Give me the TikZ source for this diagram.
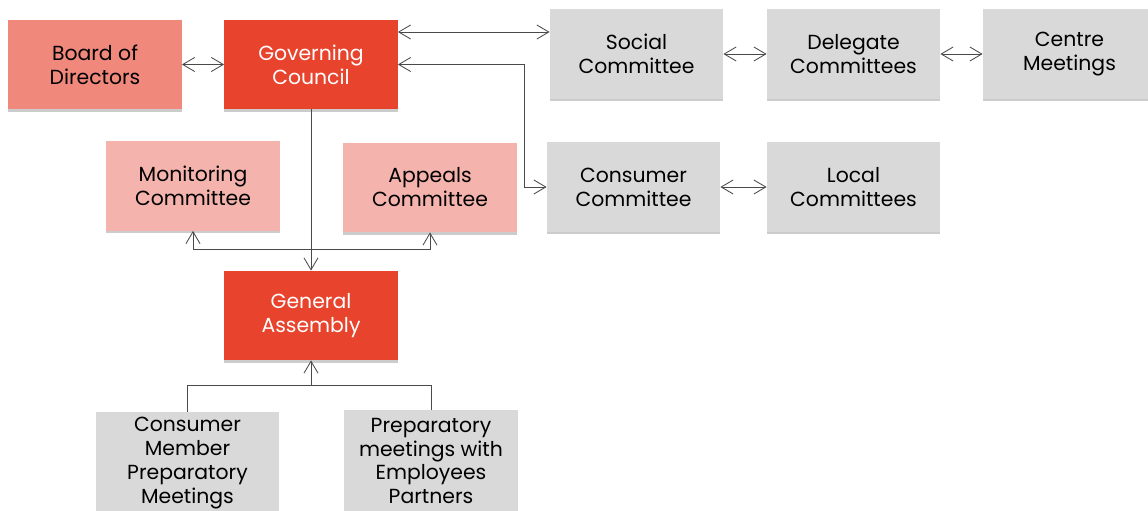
\documentclass[tikz,border=0pt]{standalone}
\usepackage{fontspec}
\setmainfont{Poppins}
\usetikzlibrary{arrows.meta,shadows}

\definecolor{redfill}{HTML}{E8432D}
\definecolor{salmonfill}{HTML}{F0887C}
\definecolor{pinkfill}{HTML}{F4B3AC}
\definecolor{greyfill}{HTML}{D9D9D9}
\definecolor{linkgrey}{HTML}{4A4A4A}

\tikzset{
  box/.style={minimum width=4.33cm,minimum height=2.23cm,align=center,inner sep=2pt,
    font=\fontsize{14.5}{17}\selectfont,
    drop shadow={shadow xshift=0pt,shadow yshift=-2pt,opacity=0.2,fill=black}},
  redbox/.style={box,fill=redfill,text=white},
  salmonbox/.style={box,fill=salmonfill,text=black},
  pinkbox/.style={box,fill=pinkfill,text=black},
  greybox/.style={box,fill=greyfill,text=black},
  tallbox/.style={greybox,minimum height=2.55cm},
  link/.style={draw=linkgrey,line width=0.6pt,{Straight Barb[length=8.5pt,width=10pt]}-{Straight Barb[length=8.5pt,width=10pt]}},
  tolink/.style={draw=linkgrey,line width=0.6pt,-{Straight Barb[length=8.5pt,width=10pt]}},
  plainlink/.style={draw=linkgrey,line width=0.6pt}
}

\begin{document}
\begin{tikzpicture}[x=0.025cm,y=-0.025cm]
\useasboundingbox[fill=white] (0,0) rectangle (1148,511);

% top row
\path (95,64.5) node[salmonbox] (board) {Board of\\Directors};
\path (311,64.5) node[redbox] (gov) {Governing\\Council};
\path (636.5,54) node[greybox] (social) {Social\\Committee};
\path (853.5,54) node[greybox] (delegate) {Delegate\\Committees};
\path (1069.5,54) node[greybox] (centre) {Centre\\Meetings};

% middle row
\path (193,186) node[pinkbox] (monitor) {Monitoring\\Committee};
\path (430,187.5) node[pinkbox] (appeals) {Appeals\\Committee};
\path (633.5,187) node[greybox] (consumer) {Consumer\\Committee};
\path (853.5,187) node[greybox] (local) {Local\\Committees};

% assembly and meetings
\path (311,315.5) node[redbox] (assembly) {General\\Assembly};
\path (187.5,463) node[tallbox,minimum width=4.58cm] (members) {Consumer\\Member\\Preparatory\\Meetings};
\path (431,461) node[tallbox] (staff) {Preparatory\\meetings with\\Employees\\Partners};

\coordinate (bend) at (524,64.5);

\path[link] (board) edge (gov);
\draw[link] (gov.east |- 0,32) -- (social.west |- 0,32);
\draw[link] (gov.east) -- (bend) |- (consumer.west);
\path[link] (social) edge (delegate);
\path[link] (delegate) edge (centre);
\path[link] (consumer) edge (local);

\draw[tolink] (gov) -- (assembly);
\draw[link] (monitor.south) -- (monitor.south |- 0,249) -- (appeals.south |- 0,249) -- (appeals.south);

\draw[plainlink] (members.north) |- (staff.north |- 0,385) -- (staff.north);
\draw[tolink] (assembly.south |- 0,385) -- (assembly.south);
\end{tikzpicture}
\end{document}
